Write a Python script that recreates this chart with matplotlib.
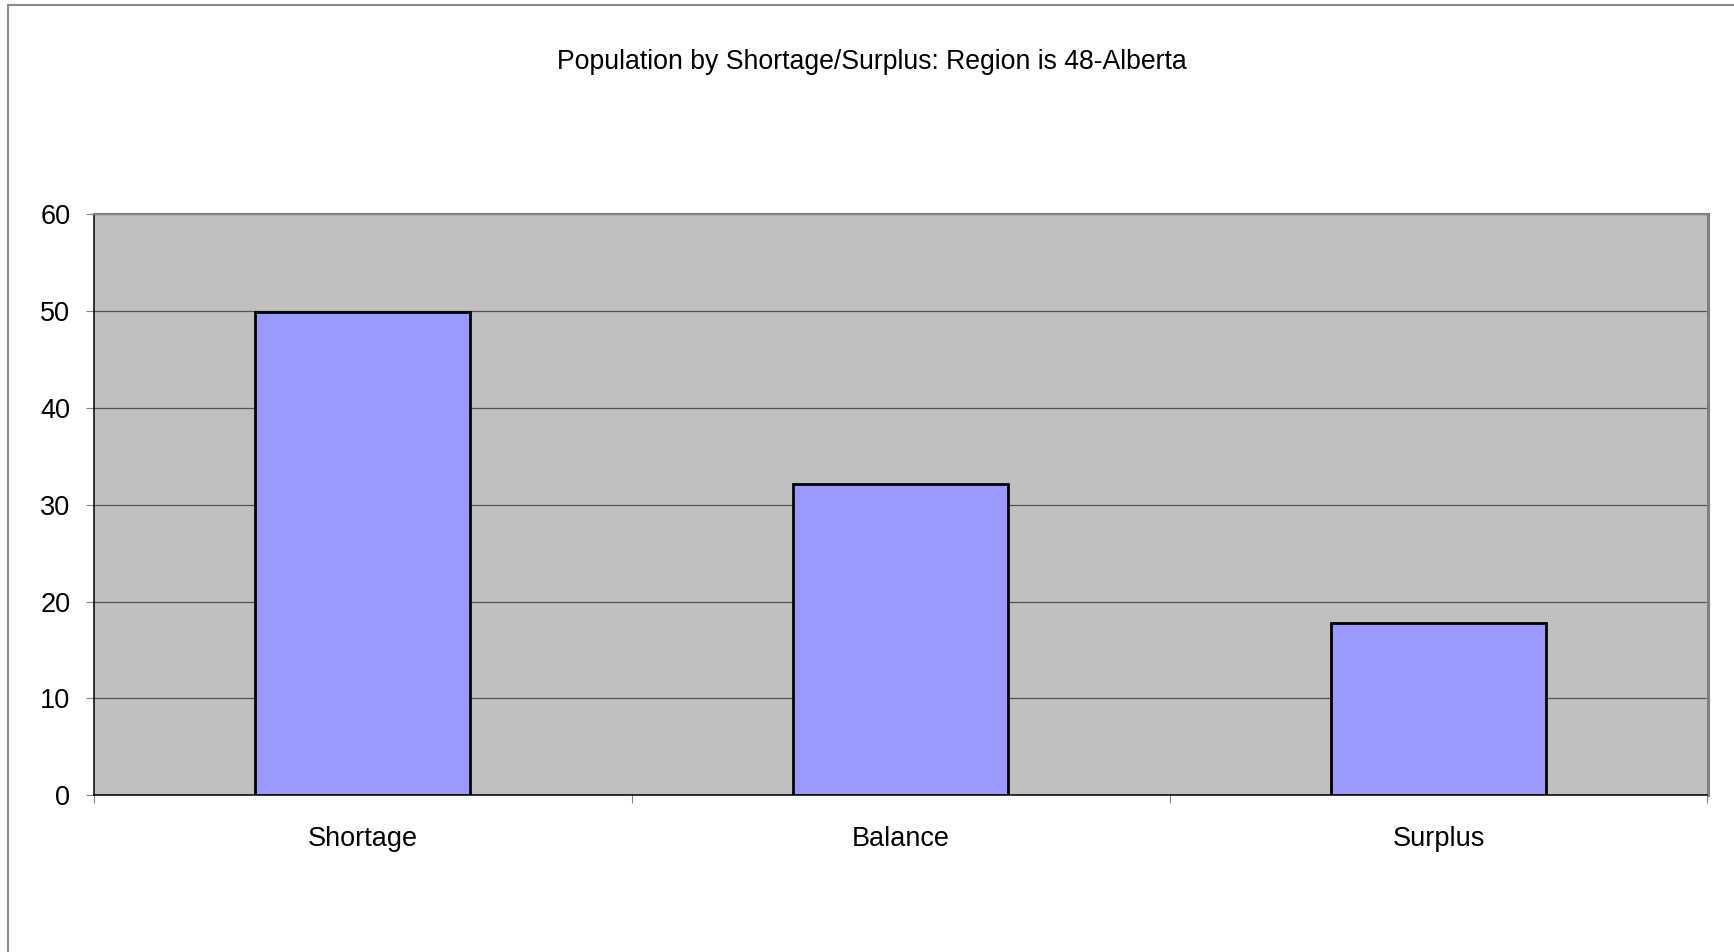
import matplotlib
matplotlib.use("Agg")
import matplotlib.pyplot as plt
from matplotlib.patches import Rectangle

categories = ["Shortage", "Balance", "Surplus"]
values = [49.9, 32.1, 17.8]
yticks = [0, 10, 20, 30, 40, 50, 60]
title = "Population by Shortage/Surplus: Region is 48-Alberta"

plt.rcParams['font.family'] = ['Liberation Sans', 'DejaVu Sans']

W, H = 1734, 952
fig = plt.figure(figsize=(W / 100, H / 100), dpi=100)
fig.patch.set_facecolor("white")

# outer chart frame
fig.patches.append(Rectangle((8 / W, -0.1), 1.2, (H - 5) / H + 0.1, transform=fig.transFigure,
                             fill=False, edgecolor="#8a8a8a", linewidth=1.5))

ax = fig.add_axes([94 / W, (H - 795.3) / H, (1707.5 - 94) / W, (795.3 - 214.3) / H])
ax.set_facecolor("#C0C0C0")

x = list(range(len(categories)))
ax.bar(x, values, width=0.4, color="#9999FF", edgecolor="black", linewidth=2.0, zorder=3)

ax.set_xlim(-0.5, len(categories) - 0.5)
ax.set_ylim(0, 60)
ax.set_yticks(yticks)
ax.set_yticklabels([str(v) for v in yticks])
ax.yaxis.grid(True, color="#555555", linewidth=0.9, zorder=1)
ax.set_axisbelow(True)

# x: boundary ticks (major, no labels) and category labels (minor, no ticks)
ax.set_xticks([i - 0.5 for i in range(len(categories) + 1)])
ax.set_xticklabels([""] * (len(categories) + 1))
ax.set_xticks(x, minor=True)
ax.set_xticklabels(categories, minor=True)
ax.tick_params(axis="x", which="major", direction="out", length=6, width=0.8, color="#808080")
ax.tick_params(axis="x", which="minor", length=0, pad=22, labelsize=19.5)
ax.tick_params(axis="y", direction="out", length=6, width=0.8, color="#808080", pad=11, labelsize=19.5)

for s in ["left", "bottom"]:
    ax.spines[s].set_color("black")
    ax.spines[s].set_linewidth(1.1)
ax.spines["top"].set_color("#808080")
ax.spines["top"].set_linewidth(1.6)
ax.spines["right"].set_color("#808080")
ax.spines["right"].set_linewidth(2.2)

fig.text(872 / W, 1 - 62 / H, title, ha="center", va="center", fontsize=19.2)

fig.savefig("out.png", dpi=100)
